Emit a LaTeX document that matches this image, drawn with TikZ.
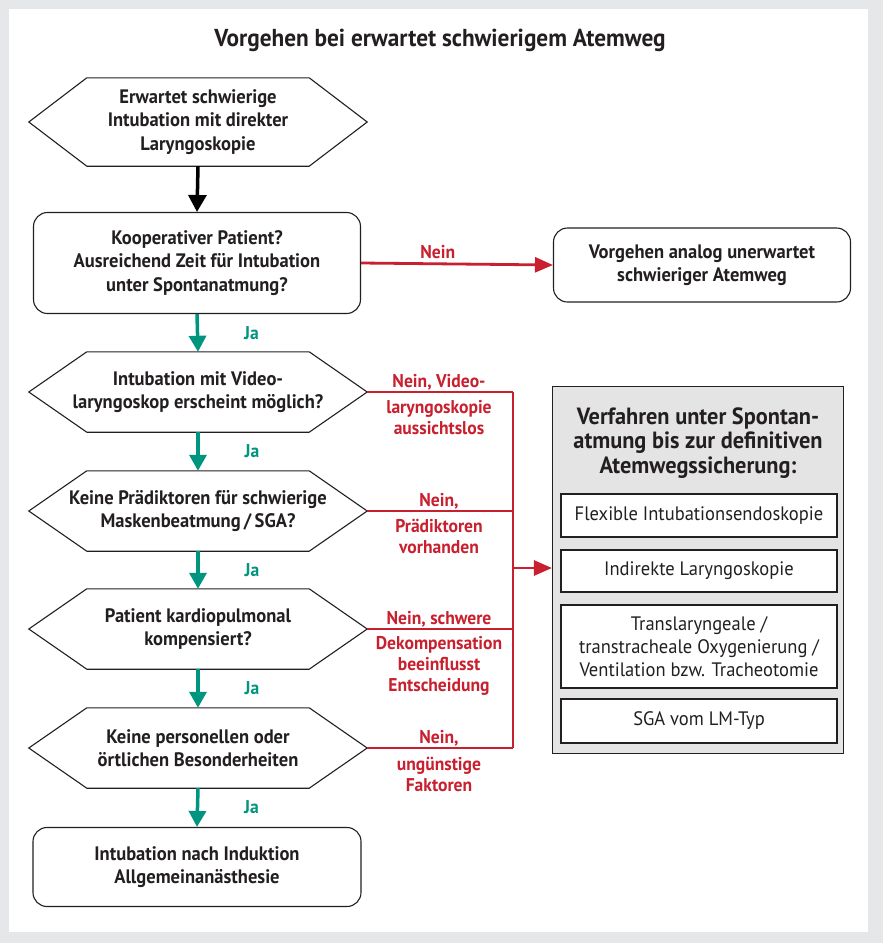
\documentclass[tikz,border=0pt]{standalone}
\usepackage{fontspec}
\setmainfont{PT Sans}[FakeStretch=0.95]
\usetikzlibrary{arrows.meta,calc}

\definecolor{pagegray}{HTML}{E6E7E9}
\definecolor{panelgray}{HTML}{E4E4E4}
\definecolor{inkdark}{HTML}{231F20}
\definecolor{neinred}{HTML}{C8202F}
\definecolor{jagreen}{HTML}{00957F}

\tikzset{
  txtbold/.style={font=\fontsize{19.5}{23.5}\selectfont\bfseries, text=inkdark, align=center},
  txtlabel/.style={font=\fontsize{18.5}{21}\selectfont\bfseries, align=center, inner sep=2pt},
  hexbox/.style={txtbold, minimum width=338pt, minimum height=80pt, inner sep=0pt},
  hexline/.style={draw=inkdark, line width=1.1pt},
  roundbox/.style={txtbold, draw=inkdark, line width=1.1pt, rounded corners=14pt, fill=white},
  itembox/.style={font=\fontsize{19.5}{23}\selectfont, text=inkdark, align=center,
    draw=inkdark, line width=1.1pt, fill=white, minimum width=276pt, inner sep=0pt},
  blackarrow/.style={line width=3.5pt, draw=black, -{Triangle[length=17pt, width=18pt]}},
  jaarrow/.style={line width=3.5pt, draw=jagreen, -{Triangle[length=16pt, width=17pt]}},
  neinline/.style={line width=2.2pt, draw=neinred},
  neinarrow/.style={line width=2.8pt, draw=neinred, -{Triangle[length=18pt, width=15pt]}},
  jalabel/.style={txtlabel, text=jagreen, midway, xshift=54pt},
  neinlabel/.style={txtlabel, text=neinred}
}

\begin{document}
\begin{tikzpicture}[x=1pt, y=-1pt]

  % background and white sheet
  \fill[pagegray] (0,0) rectangle (883,943);
  \useasboundingbox (0,0) rectangle (883,943);
  \fill[white] (9,9) rectangle (868,932);

  \node[txtbold, font=\fontsize{24.5}{28}\selectfont\bfseries] (title) at (440,40)
    {Vorgehen bei erwartet schwierigem Atemweg};

  % main column
  \node[hexbox, minimum height=88pt] (start) at (198,122)
    {Erwartet schwierige\\Intubation mit direkter\\Laryngoskopie};
  \node[roundbox, minimum width=327pt, minimum height=101pt] (coop) at (197,263)
    {Kooperativer Patient?\\Ausreichend Zeit für Intubation\\unter Spontanatmung?};
  \node[hexbox] (video) at (198,392)
    {Intubation mit Video-\\laryngoskop erscheint möglich?};
  \node[hexbox] (mask) at (198,511)
    {Keine Prädiktoren für schwierige\\Maskenbeatmung\,/\,SGA?};
  \node[hexbox] (cardio) at (198,629)
    {Patient kardiopulmonal\\kompensiert?};
  \node[hexbox] (staff) at (198,748)
    {Keine personellen oder\\örtlichen Besonderheiten};
  \node[roundbox, minimum width=328pt, minimum height=79pt] (induct) at (197,867)
    {Intubation nach Induktion\\Allgemeinanästhesie};

  % hexagon outlines
  \foreach \n in {start,video,mask,cardio,staff} {
    \draw[hexline] (\n.west) -- ([xshift=58pt]\n.north west) -- ([xshift=-58pt]\n.north east)
      -- (\n.east) -- ([xshift=-58pt]\n.south east) -- ([xshift=58pt]\n.south west) -- cycle;
  }

  % right side
  \node[roundbox, minimum width=297pt, minimum height=74pt] (analog) at (702,265)
    {Vorgehen analog unerwartet\\schwieriger Atemweg};

  \node[draw=inkdark, line width=1.1pt, fill=panelgray, minimum width=291pt,
    minimum height=367pt] (panel) at (698,570) {};
  \node[txtbold, font=\fontsize{23.5}{24.5}\selectfont\bfseries] (paneltitle) at (698,443)
    {Verfahren unter Spontan-\\atmung bis zur definitiven\\Atemwegssicherung:};
  \node[itembox, minimum height=43pt] (fib) at (699,515.5) {Flexible Intubationsendoskopie};
  \node[itembox, minimum height=42pt] (indirect) at (699,571) {Indirekte Laryngoskopie};
  \node[itembox, minimum height=83pt] (trans) at (699,646.5)
    {Translaryngeale /\\transtracheale Oxygenierung /\\Ventilation bzw. Tracheotomie};
  \node[itembox, minimum height=44pt] (lmtype) at (699,721) {SGA vom LM-Typ};

  % connectors
  \draw[blackarrow] (start.south) -- (coop.north);
  \draw[neinarrow] (coop.east) -- (analog.west)
    node[neinlabel, pos=0.4, above=2pt] (nein0) {Nein};

  \draw[jaarrow] (coop.south) -- (video.north) node[jalabel] (ja1) {Ja};
  \draw[jaarrow] (video.south) -- (mask.north) node[jalabel] (ja2) {Ja};
  \draw[jaarrow] (mask.south) -- (cardio.north) node[jalabel] (ja3) {Ja};
  \draw[jaarrow] (cardio.south) -- (staff.north) node[jalabel] (ja4) {Ja};
  \draw[jaarrow] (staff.south) -- (induct.north) node[jalabel] (ja5) {Ja};

  \coordinate (bus) at (513,568);
  \foreach \n in {video,mask,cardio,staff} {
    \draw[neinline] (\n.east) -- (\n.east -| bus);
  }
  \draw[neinline] (video.east -| bus) -- (staff.east -| bus);
  \draw[neinarrow] (bus) -- (bus -| panel.west);

  % branch labels
  \node[neinlabel, anchor=south] (n1a) at (439,392) {Nein, Video-};
  \node[neinlabel, anchor=north] (n1b) at (439,398) {laryngoskopie\\aussichtslos};
  \node[neinlabel, anchor=south] (n2a) at (439,511) {Nein,};
  \node[neinlabel, anchor=north] (n2b) at (439,517) {Prädiktoren\\vorhanden};
  \node[neinlabel, anchor=south] (n3a) at (439,629) {Nein, schwere};
  \node[neinlabel, anchor=north] (n3b) at (439,634) {Dekompensation\\beeinflusst\\Entscheidung};
  \node[neinlabel, anchor=south] (n4a) at (439,748) {Nein,};
  \node[neinlabel, anchor=north] (n4b) at (439,755) {ungünstige\\Faktoren};

\end{tikzpicture}
\end{document}
